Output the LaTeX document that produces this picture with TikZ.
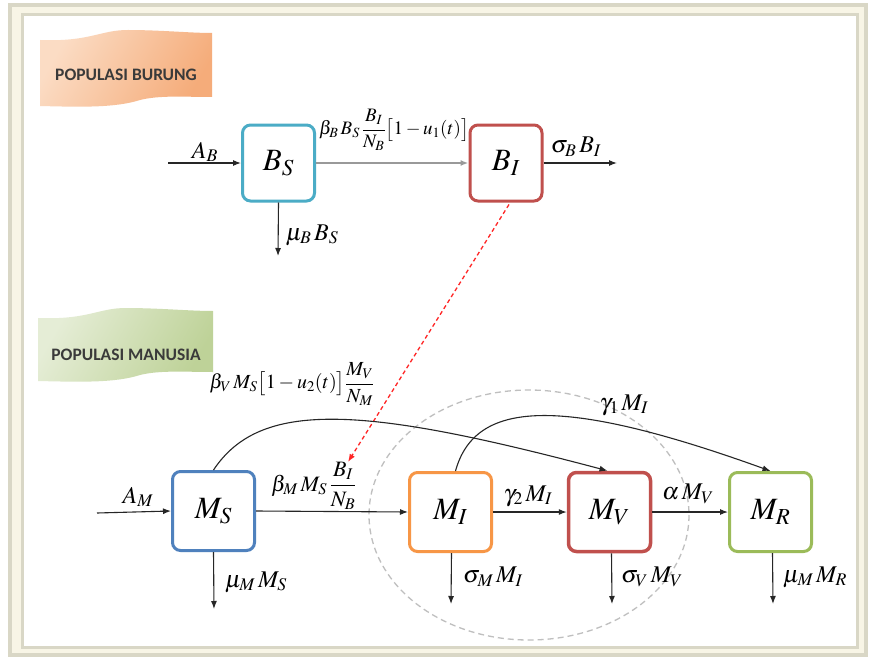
\documentclass[tikz,border=0pt]{standalone}
\usepackage{mathptmx}
\usepackage{fontspec}
\setmainfont{Liberation Serif}
\newfontfamily\calibri{Carlito}
\usetikzlibrary{arrows.meta,calc}
\definecolor{cyanb}{HTML}{4BACC6}
\definecolor{redb}{HTML}{C0504D}
\definecolor{blueb}{HTML}{4F81BD}
\definecolor{orangeb}{HTML}{F79646}
\definecolor{greenb}{HTML}{9BBB59}
\definecolor{framegray}{HTML}{D9D7C6}
\definecolor{cream}{HTML}{F8F5E6}
\definecolor{txtgray}{HTML}{3A3A3A}
\begin{document}
\begin{tikzpicture}[x=1pt,y=-1pt,
  box/.style={draw,rounded corners=8pt,line width=3pt,fill=white,inner sep=0pt,font=\fontsize{31}{33}\selectfont},
  bbox/.style={box,minimum width=72pt,minimum height=76pt},
  mbox/.style={box,minimum width=82pt,minimum height=79pt},
  flow/.style={line width=1.1pt,draw=black!85,-{Latex[length=8pt,width=6pt]}},
  lbl/.style={inner sep=0pt,font=\fontsize{24}{26}\selectfont},
  banner/.style={font=\calibri\bfseries\fontsize{17.5}{19}\selectfont,text=txtgray,inner sep=0pt},
]
\useasboundingbox (0,0) rectangle (869,658);
% frame
\filldraw[fill=cream,draw=framegray,line width=4pt] (10,5) rectangle (866,655);
\filldraw[fill=white,draw=framegray,line width=3pt] (22,15) rectangle (857,647);
% banners
\shade[shading=axis,left color={rgb,255:red,251;green,220;blue,196},right color={rgb,255:red,245;green,172;blue,122},shading angle=60]
  (40,40) .. controls (90,42) and (100,30) .. (128,30) .. controls (160,30) and (190,33) .. (212,33)
  -- (212,97) .. controls (185,97) and (160,95) .. (140,100) .. controls (115,108) and (80,107) .. (40,106) -- cycle;
\node[banner] (popb) at (126,75) {POPULASI BURUNG};
\shade[shading=axis,left color={rgb,255:red,229;green,237;blue,214},right color={rgb,255:red,190;green,210;blue,152},shading angle=60]
  (38,318) .. controls (88,320) and (98,308) .. (126,308) .. controls (158,308) and (190,311) .. (213,311)
  -- (213,372) .. controls (186,372) and (160,370) .. (140,375) .. controls (115,383) and (80,382) .. (38,381) -- cycle;
\node[banner] (popm) at (126,355) {POPULASI MANUSIA};
% bird boxes
\node[bbox,draw=cyanb] (BS) at (278.5,163) {$B_S$};
\node[bbox,draw=redb] (BI) at (506,163) {$B_I$};
% human boxes
\node[mbox,draw=blueb] (MS) at (213.5,511) {$M_S$};
\node[mbox,draw=orangeb] (MI) at (450.5,512) {$M_I$};
\node[mbox,draw=redb,line width=3.5pt] (MV) at (609.5,512) {$M_V$};
\node[mbox,draw=greenb] (MR) at (770.5,512) {$M_R$};
% dashed ellipse
\draw[gray!50,line width=1.3pt,dash pattern=on 6pt off 4pt] (529,515) ellipse [x radius=160, y radius=125];
% free ends
\coordinate (aB) at (168,163);
\coordinate (sB) at (617,163);
\coordinate (mB) at (278,256);
\coordinate (aM) at (97,513);
\coordinate (mMS) at (214,609);
\coordinate (sMI) at (451,604);
\coordinate (sMV) at (612,604);
\coordinate (mMR) at (773,604);
\coordinate (redend) at (348,462);
% bird flows
\draw[flow] (aB) -- (BS.west);
\draw[flow,draw=gray!80,line width=1.6pt] (BS.east) -- (BI.west);
\draw[flow] (BI.east) -- (sB);
\draw[flow] (BS.south) -- (mB);
% red dashed
\draw[red!85,line width=1.3pt,dash pattern=on 4pt off 3pt,-{Latex[length=8pt,width=6pt]}] ($(BI.south)+(3,2)$) -- (redend);
% human flows
\draw[flow] (aM) -- (MS.west);
\draw[flow] (MS.east) -- (MI.west);
\draw[flow] (MI.east) -- (MV.west);
\draw[flow] (MV.east) -- (MR.west);
\draw[flow] (MS.south) -- (mMS);
\draw[flow] ($(MI.south)+(1,0)$) -- (sMI);
\draw[flow] ($(MV.south)+(2,0)$) -- (sMV);
\draw[flow] ($(MR.south)+(2,0)$) -- (mMR);
\draw[flow] (MS.north) .. controls (260,400) and (360,405) .. ($(MV.north)+(-2,0)$);
\draw[flow] ($(MI.north)+(5,0)$) .. controls (475,400) and (560,395) .. (MR.north);
% labels
\node[lbl] (lAB) at (205,152) {$A_B$};
\node[lbl,font=\fontsize{19}{21}\selectfont] (lbB) at (394,130) {$\displaystyle\beta_B\, B_S\,\frac{B_I}{N_B}\bigl[1-u_1(t)\bigr]$};
\node[lbl] (lsB) at (576,147) {$\sigma_B\, B_I$};
\node[lbl] (lmB) at (312,235) {$\mu_B\, B_S$};
\node[lbl,font=\fontsize{20}{22}\selectfont] (lbV) at (292,384) {$\displaystyle\beta_V\, M_S\bigl[1-u_2(t)\bigr]\frac{M_V}{N_M}$};
\node[lbl] (lAM) at (138,497) {$A_M$};
\node[lbl,font=\fontsize{22}{24}\selectfont] (lbM) at (314,486) {$\displaystyle\beta_M\, M_S\,\frac{B_I}{N_B}$};
\node[lbl] (lmMS) at (256,582) {$\mu_M\, M_S$};
\node[lbl] (lg2) at (528,496) {$\gamma_2\, M_I$};
\node[lbl] (lal) at (688,494) {$\alpha\, M_V$};
\node[lbl] (lsMI) at (493,577) {$\sigma_M\, M_I$};
\node[lbl] (lsMV) at (652,577) {$\sigma_V\, M_V$};
\node[lbl] (lmMR) at (815,577) {$\mu_M\, M_R$};
\node[lbl] (lg1) at (624,405) {$\gamma_1\, M_I$};
\end{tikzpicture}
\end{document}
